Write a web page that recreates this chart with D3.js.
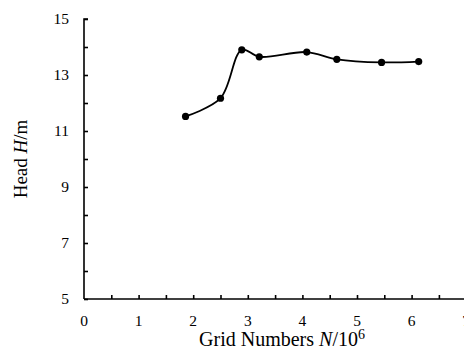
<!DOCTYPE html>
<html lang="en">
<head>
  <meta charset="UTF-8">
  <title>Head vs Grid Numbers</title>
  <script src="https://d3js.org/d3.v7.min.js"></script>
  <style>
    body { margin: 0; background: #fff; }
    text { font-family: "Liberation Serif", "Times New Roman", serif; fill: #000; }
  </style>
</head>
<body>
<script>
  // data
  const gridNumbers = [1.86, 2.50, 2.89, 3.21, 4.08, 4.63, 5.45, 6.13];
  const headValues = [11.52, 12.17, 13.90, 13.65, 13.82, 13.56, 13.45, 13.48];
  const yTickValues = [5, 7, 9, 11, 13, 15];
  const xTickValues = [0, 1, 2, 3, 4, 5, 6, 7];

  const width = 464, height = 351;
  const marginLeft = 84, marginTop = 19, axisBottom = 299;

  const svg = d3.select("body").append("svg")
      .attr("width", width)
      .attr("height", height);

  // scales
  const x = d3.scaleLinear().domain([0, 7]).range([marginLeft, marginLeft + 7 * 54.6]);
  const y = d3.scaleLinear().domain([5, 15]).range([axisBottom, marginTop]);

  // y axis, ticks pointing inward
  const yAxis = svg.append("g")
      .attr("transform", `translate(${marginLeft},0)`)
      .call(d3.axisRight(y).tickValues(d3.range(5, 15.01, 1)).tickSize(4).tickFormat(""));
  yAxis.select(".domain").attr("d", `M4,${y(15)}H0V${y(5)}`).attr("stroke-width", 1.6);
  yAxis.selectAll(".tick line").attr("stroke-width", 1.6);

  svg.append("g").selectAll("text")
      .data(yTickValues)
      .join("text")
      .attr("x", 69)
      .attr("y", d => y(d))
      .attr("dy", "0.35em")
      .attr("text-anchor", "end")
      .attr("font-size", 15.5)
      .text(d => d);

  // x axis, ticks pointing up
  const xAxis = svg.append("g")
      .attr("transform", `translate(0,${y(5)})`)
      .call(d3.axisTop(x).tickValues(d3.range(0.5, 7.01, 0.5)).tickSize(4).tickFormat(""));
  xAxis.select(".domain").attr("d", `M${marginLeft},0H${width}`).attr("stroke-width", 1.6);
  xAxis.selectAll(".tick line").attr("stroke-width", 1.6);

  svg.append("g").selectAll("text")
      .data(xTickValues)
      .join("text")
      .attr("x", d => x(d))
      .attr("y", 326)
      .attr("text-anchor", "middle")
      .attr("font-size", 15.5)
      .text(d => d);

  // axis titles
  const xt = svg.append("text")
      .attr("x", 282)
      .attr("y", 346)
      .attr("text-anchor", "middle")
      .attr("font-size", 20);
  xt.append("tspan").text("Grid Numbers ");
  xt.append("tspan").attr("font-style", "italic").text("N");
  xt.append("tspan").text("/10");
  xt.append("tspan").attr("font-size", 14).attr("dy", -7).text("6");

  const yt = svg.append("text")
      .attr("transform", `translate(27,159) rotate(-90)`)
      .attr("text-anchor", "middle")
      .attr("font-size", 19);
  yt.append("tspan").text("Head ");
  yt.append("tspan").attr("font-style", "italic").text("H");
  yt.append("tspan").text("/m");

  // series
  const points = gridNumbers.map((g, i) => [g, headValues[i]]);
  const line = d3.line()
      .x(d => x(d[0]))
      .y(d => y(d[1]))
      .curve(d3.curveCatmullRom.alpha(0.5));

  svg.append("path")
      .datum(points)
      .attr("fill", "none")
      .attr("stroke", "#000")
      .attr("stroke-width", 1.8)
      .attr("d", line);

  svg.append("g").selectAll("circle")
      .data(points)
      .join("circle")
      .attr("cx", d => x(d[0]))
      .attr("cy", d => y(d[1]))
      .attr("r", 3.6)
      .attr("fill", "#000");
</script>
</body>
</html>
